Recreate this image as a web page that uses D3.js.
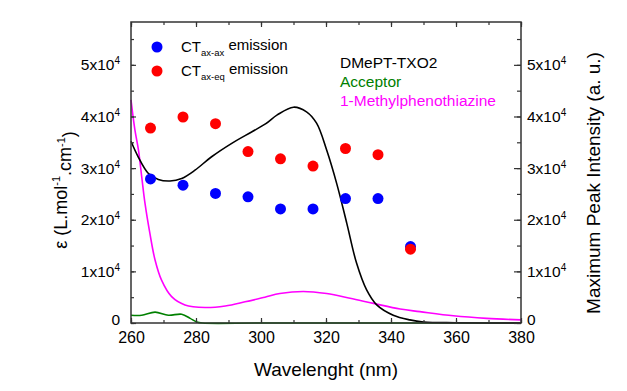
<!DOCTYPE html>
<html>
<head>
<meta charset="utf-8">
<script src="https://cdn.jsdelivr.net/npm/d3@7"></script>
<style>
  body { margin: 0; background: #fff; }
  text { font-family: "Liberation Sans", Arial, sans-serif; }
</style>
</head>
<body>
<div id="vis"></div>
<script>
// wavelengths of the emission points
let emWave = [266, 276, 286, 296, 306, 316, 326, 336, 346];
let ctAxAx = [27900, 26700, 25100, 24450, 22100, 22100, 24100, 24100, 14800];
let ctAxEq = [37750, 39900, 38600, 33200, 31800, 30400, 33800, 32600, 14300];

// absorption of DMePT-TXO2
let dmeptWave = [260, 262.2, 265.3, 268.4, 272, 275.6, 279.7, 284.8, 291, 297.1, 301.5, 305, 310, 314, 317.1, 320.2, 323.3, 326.4, 329.4, 332.5, 335.6, 340.7, 345.8, 350, 360, 380];
let dmeptEps = [35200, 32200, 29000, 27800, 27500, 28000, 29600, 32200, 34800, 37000, 38600, 40300, 41800, 40900, 38700, 33500, 27000, 19300, 11600, 6400, 3500, 1500, 600, 200, 50, 0];

// absorption of acceptor
let accWave = [260, 263.3, 267.4, 271.5, 275.6, 278.2, 280.2, 282, 300, 340, 380];
let accEps = [1500, 1500, 2100, 1500, 1700, 900, 200, 0, 0, 0, 0];

// absorption of 1-methylphenothiazine
let mptWave = [260, 261.2, 262.3, 263.3, 264.3, 265.8, 267.4, 269.4, 272.5, 276.6, 282.8, 289, 295.1, 301.2, 305.8, 313, 320.2, 327.4, 334.6, 342.8, 348.9, 359.2, 369.4, 380];
let mptEps = [43200, 37400, 33500, 28300, 23200, 17400, 12200, 8300, 5100, 3500, 3000, 3300, 4100, 5000, 5700, 6100, 5700, 4800, 3800, 2700, 2200, 1400, 900, 600];

let xTicks = [260, 280, 300, 320, 340, 360, 380];
let yTicks = [0, 1, 2, 3, 4, 5];

let margin = { top: 22, left: 131, right: 106, bottom: 68 },
    W = 627, H = 391,
    width = W - margin.left - margin.right,
    height = H - margin.top - margin.bottom;

let svg = d3.select('#vis').append('svg')
    .attr('width', W).attr('height', H);

let g = svg.append('g')
    .attr('transform', 'translate(' + margin.left + ',' + margin.top + ')');

let x = d3.scaleLinear().domain([260, 380]).range([0, width]);
let y = d3.scaleLinear().domain([0, 58300]).range([height, 0]);

// lines
let line = d3.line()
    .x(d => x(d[0]))
    .y(d => y(d[1]))
    .curve(d3.curveCatmullRom.alpha(0.5));

function drawLine(wave, vals, color) {
    g.append('path')
        .datum(wave.map((w, i) => [w, vals[i]]))
        .attr('fill', 'none')
        .attr('stroke', color)
        .attr('stroke-width', 1.6)
        .attr('d', line);
}

drawLine(mptWave, mptEps, '#ff00ff');
drawLine(accWave, accEps, '#008000');
drawLine(dmeptWave, dmeptEps, '#000000');

// points
g.append('g').selectAll('circle')
    .data(emWave.map((w, i) => [w, ctAxAx[i]]))
    .enter().append('circle')
    .attr('cx', d => x(d[0]))
    .attr('cy', d => y(d[1]))
    .attr('r', 5.5)
    .attr('fill', '#0000ff');

g.append('g').selectAll('circle')
    .data(emWave.map((w, i) => [w, ctAxEq[i]]))
    .enter().append('circle')
    .attr('cx', d => x(d[0]))
    .attr('cy', d => y(d[1]))
    .attr('r', 5.5)
    .attr('fill', '#ff0000');

// axes, ticks inward
let axisColor = '#333';
let xMinor = d3.range(260, 381, 10);
let yMinor = d3.range(0, 58000, 5000);

function styleAxis(sel) {
    sel.select('.domain').remove();
    sel.selectAll('line').attr('stroke', axisColor).attr('stroke-width', 1.2);
}

// bottom
let bottom = g.append('g').attr('transform', 'translate(0,' + height + ')');
bottom.call(d3.axisBottom(x).tickValues(xMinor).tickSize(-3).tickFormat(''));
bottom.call(styleAxis);
let bottomMaj = g.append('g').attr('transform', 'translate(0,' + height + ')')
    .call(d3.axisBottom(x).tickValues(xTicks).tickSize(-5).tickPadding(9));
bottomMaj.call(styleAxis);
bottomMaj.selectAll('text').attr('font-size', 16).attr('fill', '#000')
    .style('font-family', '"Liberation Sans", Arial, sans-serif');

// top
g.append('g').call(d3.axisTop(x).tickValues(xMinor).tickSize(-3).tickFormat('')).call(styleAxis);
g.append('g').call(d3.axisTop(x).tickValues(xTicks).tickSize(-5).tickFormat('')).call(styleAxis);

function yLabel(sel) {
    sel.selectAll('text').each(function(d) {
        let t = d3.select(this).text('');
        t.attr('font-size', 15.5).attr('fill', '#000')
            .style('font-family', '"Liberation Sans", Arial, sans-serif');
        if (d === 0) { t.text('0').attr('dy', '0.1em'); return; }
        t.append('tspan').text((d / 10000) + 'x10');
        t.append('tspan').text('4').attr('font-size', 10).attr('dy', '-0.6em');
    });
}

// left
g.append('g').call(d3.axisLeft(y).tickValues(yMinor).tickSize(-3).tickFormat('')).call(styleAxis);
g.append('g').call(d3.axisLeft(y).tickValues(yTicks.map(v => v * 10000)).tickSize(-5).tickPadding(11))
    .call(styleAxis).call(yLabel);

// right
g.append('g').attr('transform', 'translate(' + width + ',0)')
    .call(d3.axisRight(y).tickValues(yMinor).tickSize(-4).tickFormat('')).call(styleAxis);
g.append('g').attr('transform', 'translate(' + width + ',0)')
    .call(d3.axisRight(y).tickValues(yTicks.map(v => v * 10000)).tickSize(-7).tickPadding(6))
    .call(styleAxis).call(yLabel);

// frame
g.append('rect')
    .attr('width', width).attr('height', height)
    .attr('fill', 'none')
    .attr('stroke', axisColor)
    .attr('stroke-width', 1.5);

// axis titles
svg.append('text')
    .attr('x', 326)
    .attr('y', 376)
    .attr('text-anchor', 'middle')
    .attr('font-size', 19)
    .text('Wavelenght (nm)');

// left title built from tspans, centred by measuring it
let leftTitle = svg.append('text')
    .attr('transform', 'translate(67,190) rotate(-90)')
    .attr('font-size', 18);
leftTitle.append('tspan').text('ε (L.mol');
leftTitle.append('tspan').text('-1').attr('font-size', 11).attr('dy', '-0.6em');
leftTitle.append('tspan').text('.cm').attr('dy', '0.6em');
leftTitle.append('tspan').text('-1').attr('font-size', 11).attr('dy', '-0.6em');
leftTitle.append('tspan').text(')').attr('dy', '0.6em');
let ltLen = leftTitle.node().getComputedTextLength();
leftTitle.attr('x', -ltLen / 2);

svg.append('text')
    .attr('transform', 'translate(600,183) rotate(-90)')
    .attr('text-anchor', 'middle')
    .attr('font-size', 19)
    .text('Maximum Peak Intensity (a. u.)');

// legend for points
let legendItems = [
    { color: '#0000ff', sub: 'ax-ax', y: 47 },
    { color: '#ff0000', sub: 'ax-eq', y: 71 }
];
legendItems.forEach(function(d) {
    svg.append('circle')
        .attr('cx', 157).attr('cy', d.y).attr('r', 5.5)
        .attr('fill', d.color);
    let t = svg.append('text')
        .attr('x', 181).attr('y', d.y + 5)
        .attr('font-size', 15);
    t.append('tspan').text('CT');
    t.append('tspan').text(d.sub).attr('font-size', 9.5).attr('dy', '0.45em');
    t.append('tspan').text(' emission').attr('dy', '-0.45em');
});

// legend for lines
let lineLegend = [
    { label: 'DMePT-TXO2', color: '#000000', y: 68 },
    { label: 'Acceptor', color: '#008000', y: 87 },
    { label: '1-Methylphenothiazine', color: '#ff00ff', y: 106 }
];
svg.append('g').selectAll('text')
    .data(lineLegend)
    .enter().append('text')
    .attr('x', 340)
    .attr('y', d => d.y)
    .attr('font-size', 15.5)
    .attr('fill', d => d.color)
    .text(d => d.label);
</script>
</body>
</html>
